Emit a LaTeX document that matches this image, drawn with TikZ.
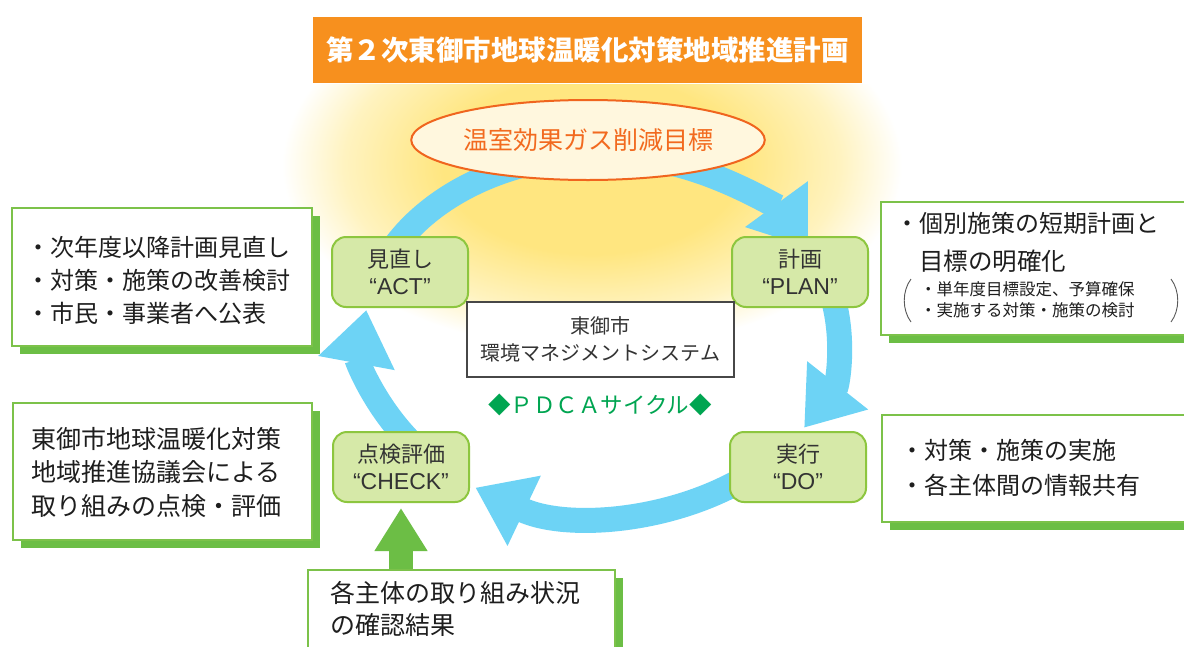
\documentclass[tikz,border=0pt]{standalone}
\usepackage{fontspec}
\setmainfont{Noto Sans CJK JP}
\newfontfamily\lat{Liberation Sans}
\usetikzlibrary{arrows.meta,shapes.geometric,shadows}
\definecolor{ttl}{HTML}{F7901E}
\definecolor{gA}{HTML}{FFE680}
\definecolor{gB}{HTML}{FFF3C0}
\definecolor{ringc}{HTML}{6DD3F5}
\definecolor{goalline}{HTML}{F0651E}
\definecolor{goalfill}{HTML}{FFF7DE}
\definecolor{goaltext}{HTML}{F26A1F}
\definecolor{boxfill}{HTML}{D6E9A8}
\definecolor{boxline}{HTML}{8DC63F}
\definecolor{sideline}{HTML}{7CC24A}
\definecolor{shgreen}{HTML}{6CBE45}
\definecolor{pdca}{HTML}{00A551}
\definecolor{txt}{HTML}{1E1E1E}
\definecolor{ctr}{HTML}{333333}
\pgfdeclareradialshading{glow}{\pgfpointorigin}{color(0bp)=(gA); color(12bp)=(gA); color(20bp)=(gB); color(25bp)=(white); color(50bp)=(white)}
\begin{document}
\begin{tikzpicture}[x=1pt,y=-1pt,
  ringarrow/.style={line width=25pt, draw=ringc, -{Triangle[width=74pt,length=54pt]}},
  cyclebox/.style={draw=boxline, fill=boxfill, line width=2pt, rounded corners=14pt,
    minimum width=136pt, minimum height=70pt, align=center, text=ctr,
    font=\fontsize{22}{27}\selectfont, inner sep=0pt},
  sidebox/.style={draw=sideline, fill=white, line width=2.5pt, inner sep=0pt,
    general shadow={fill=shgreen, shadow xshift=8pt, shadow yshift=-8pt}},
  sidetext/.style={text=txt, align=left, inner sep=0pt},
  garrow/.style={line width=24pt, draw=shgreen, -{Triangle[width=50pt,length=43pt]}},
  paren/.style={draw=black!65, line width=0.9pt}
]
\useasboundingbox (0,0) rectangle (1184,646);
\fill[white] (0,0) rectangle (1184,646);

% glow
\begin{scope}
  \clip (0,84) rectangle (1184,646);
  \shade[shading=glow] (592,165) ellipse [x radius=310, y radius=185];
\end{scope}

% title
\node[fill=ttl, minimum width=549pt, minimum height=66pt, inner sep=0pt,
  text=white, font=\fontsize{27.5}{30}\selectfont\bfseries] (title) at (587.5,50)
  {第２次東御市地球温暖化対策地域推進計画};

% cycle ring
\coordinate (rc) at (601,335);
\draw[ringarrow] (rc) ++(200:237 and 180) arc[start angle=200, end angle=331, x radius=237, y radius=180];
\draw[ringarrow] (rc) ++(-15:237 and 180) arc[start angle=-15, end angle=31, x radius=237, y radius=180];
\draw[ringarrow] (rc) ++(45:237 and 180) arc[start angle=45, end angle=122, x radius=237, y radius=180];
\draw[ringarrow] (rc) ++(140:237 and 180) arc[start angle=140, end angle=188, x radius=237, y radius=180];

% goal ellipse
\node[ellipse, draw=goalline, fill=goalfill, line width=2pt, minimum width=310pt,
  minimum height=80pt, inner sep=0pt, text=goaltext, font=\fontsize{25}{28}\selectfont]
  (goal) at (588,140) {温室効果ガス削減目標};

% cycle boxes
\node[cyclebox] (act) at (400,272) {見直し\\{\lat\fontsize{23}{27}\selectfont “ACT”}};
\node[cyclebox] (plan) at (800,272) {計画\\{\lat\fontsize{23}{27}\selectfont “PLAN”}};
\node[cyclebox] (check) at (401,467) {点検評価\\{\lat\fontsize{23}{27}\selectfont “CHECK”}};
\node[cyclebox] (do) at (798,467) {実行\\{\lat\fontsize{23}{27}\selectfont “DO”}};

% centre
\node[draw=ctr!90, line width=2pt, fill=white, minimum width=267pt, minimum height=75pt,
  align=center, text=ctr, font=\fontsize{20}{27}\selectfont, inner sep=0pt]
  (ems) at (600.5,339.5) {東御市\\環境マネジメントシステム};
\node[text=pdca, font=\fontsize{22.5}{26}\selectfont, inner sep=0pt] (cyc) at (600,405)
  {◆ＰＤＣＡサイクル◆};

% side boxes
\node[sidebox, minimum width=300pt, minimum height=138pt] (lt) at (162,277) {};
\node[sidetext, font=\fontsize{24}{33}\selectfont, anchor=west] (ltt) at (26,280)
  {・次年度以降計画見直し\\・対策・施策の改善検討\\・市民・事業者へ公表};

\node[sidebox, minimum width=299pt, minimum height=137pt] (lb) at (162.5,471.5) {};
\node[sidetext, font=\fontsize{25}{33.5}\selectfont, anchor=west] (lbt) at (31,472)
  {東御市地球温暖化対策\\地域推進協議会による\\取り組みの点検・評価};

\node[sidebox, minimum width=330pt, minimum height=133pt] (rt) at (1046,268.5) {};
\node[sidetext, font=\fontsize{24}{30}\selectfont, anchor=west] (rt1) at (895,223)
  {・個別施策の短期計画と};
\node[sidetext, font=\fontsize{24.5}{30}\selectfont, anchor=west] (rt2) at (919,261)
  {目標の明確化};
\node[sidetext, font=\fontsize{16.5}{21}\selectfont, anchor=west] (rt3) at (920,299.5)
  {・単年度目標設定、予算確保\\・実施する対策・施策の検討};
\draw[paren] (911,279) .. controls (902,291) and (902,310) .. (911,322);
\draw[paren] (1171,279) .. controls (1180,291) and (1180,310) .. (1171,322);

\node[sidebox, minimum width=330pt, minimum height=107pt] (rb) at (1047,468.5) {};
\node[sidetext, font=\fontsize{24}{35}\selectfont, anchor=west] (rbt) at (900,467.5)
  {・対策・施策の実施\\・各主体間の情報共有};

\node[sidebox, minimum width=307pt, minimum height=100pt] (res) at (461.5,620) {};
\node[sidetext, font=\fontsize{25}{32}\selectfont, anchor=west] (rest) at (330,609)
  {各主体の取り組み状況\\の確認結果};

% green arrow
\draw[garrow] (res.north -| check.south) -- ([yshift=-5pt]check.south);
\end{tikzpicture}
\end{document}
